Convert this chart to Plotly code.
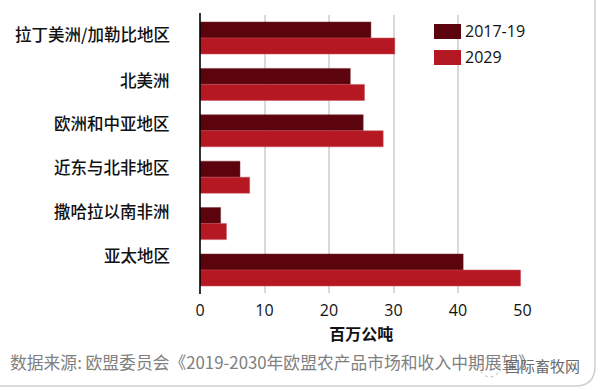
import plotly.graph_objects as go

categories = ["拉丁美洲/加勒比地区", "北美洲", "欧洲和中亚地区", "近东与北非地区", "撒哈拉以南非洲", "亚太地区"]
series_names = ["2017-19", "2029"]
values_2017_19 = [26.5, 23.3, 25.3, 6.2, 3.2, 40.8]
values_2029 = [30.2, 25.5, 28.4, 7.7, 4.1, 49.7]
tick_values = [0, 10, 20, 30, 40, 50]
colors = ["#5c040e", "#b51822"]
label_y_px = [34, 80, 123, 167, 211, 255]

W, H = 600, 391
L, R, T, B = 200, 522.5, 14.8, 293.2
CJK = "Noto Sans CJK SC"
LATIN = "Open Sans, sans-serif"

fig = go.Figure()
fig.add_bar(y=categories, x=values_2017_19, name=series_names[0], orientation="h",
            marker=dict(color=colors[0], line=dict(color="#7a2a32", width=0.5)))
fig.add_bar(y=categories, x=values_2029, name=series_names[1], orientation="h",
            marker=dict(color=colors[1], line=dict(color="#c9505a", width=0.5)))

def px_x(p): return p / W
def px_y(p): return 1 - p / H

annotations = []
for c, yp in zip(categories, label_y_px):
    annotations.append(dict(text=c, xref="paper", yref="paper", x=px_x(172), y=px_y(yp),
                            xanchor="right", yanchor="middle", showarrow=False,
                            font=dict(family=CJK, size=16.5, weight=500, color="#111111")))
for name, yp in zip(series_names, [31, 57]):
    annotations.append(dict(text=name, xref="paper", yref="paper", x=px_x(463), y=px_y(yp),
                            xanchor="left", yanchor="middle", showarrow=False,
                            font=dict(family=LATIN, size=16, color="#111111")))
annotations.append(dict(text="数据来源: 欧盟委员会《2019-2030年欧盟农产品市场和收入中期展望》",
                        xref="paper", yref="paper", x=px_x(8), y=px_y(362), xanchor="left", yanchor="middle",
                        showarrow=False, font=dict(family=CJK, size=16.8, color="#808080")))
annotations.append(dict(text="国际畜牧网", xref="paper", yref="paper", x=px_x(582), y=px_y(365),
                        xanchor="right", yanchor="middle", showarrow=False,
                        font=dict(family=CJK, size=15, color="#6a6a6a")))

shapes = []
for col, (y0, y1) in zip(colors, [(24, 39), (50, 65)]):
    shapes.append(dict(type="rect", xref="paper", yref="paper", layer="above",
                       x0=px_x(434), x1=px_x(461), y0=px_y(y0), y1=px_y(y1),
                       fillcolor=col, line=dict(width=0)))
# vertical axis line running past the plot area
shapes.append(dict(type="line", xref="paper", yref="paper", layer="above",
                   x0=px_x(200), x1=px_x(200), y0=px_y(13), y1=px_y(294),
                   line=dict(color="#000000", width=1.6)))
# card outline with rounded lower-right corner
shapes.append(dict(type="path", xref="paper", yref="paper", layer="below",
                   path=(f"M 0 {px_y(386)} L {px_x(575)} {px_y(386)} "
                         f"Q {px_x(595)} {px_y(386)} {px_x(595)} {px_y(366)} L {px_x(595)} 1"),
                   line=dict(color="#cfcfcf", width=1.5)))
# watermark badge: dotted ring over the source text
shapes.append(dict(type="circle", xref="paper", yref="paper", layer="above",
                   x0=px_x(480), x1=px_x(500), y0=px_y(357), y1=px_y(377),
                   fillcolor="rgba(255,255,255,0.9)", line=dict(color="#bbbbbb", width=1, dash="dot")))

fig.update_layout(
    width=W, height=H, barmode="group", bargap=0.31, bargroupgap=0,
    showlegend=False, paper_bgcolor="white", plot_bgcolor="white",
    margin=dict(l=0, r=0, t=0, b=0, autoexpand=False),
    annotations=annotations, shapes=shapes,
    xaxis=dict(domain=[px_x(L), px_x(R)], range=[0, 50], tickvals=tick_values,
               showgrid=True, gridcolor="#d9d9d9", gridwidth=1.5, zeroline=False,
               showline=False, ticks="outside", ticklen=3, tickcolor="rgba(0,0,0,0)",
               tickfont=dict(family=LATIN, size=16, color="#111111"),
               title=dict(text="<b>百万公吨</b>", font=dict(family=CJK, size=16, color="#111111"), standoff=8)),
    yaxis=dict(domain=[px_y(B), px_y(T)], autorange="reversed", showticklabels=False,
               showgrid=False, zeroline=False, showline=False, ticks=""),
)
fig.write_html("out.html", config={"displayModeBar": False},
               post_script="document.body.style.margin='0';document.body.style.overflow='hidden';")
